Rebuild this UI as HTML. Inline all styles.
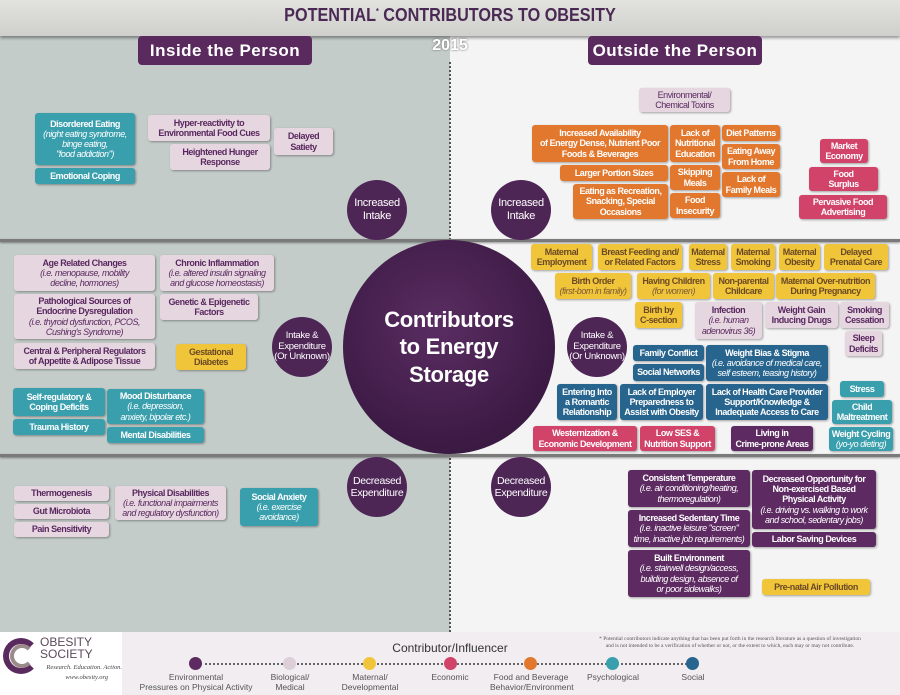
<!DOCTYPE html>
<html><head><meta charset="utf-8"><style>
*{margin:0;padding:0;box-sizing:border-box}
body{width:900px;height:695px;position:relative;overflow:hidden;font-family:"Liberation Sans",sans-serif;background:#f4f4f4}
.b{position:absolute;display:flex;flex-direction:column;align-items:center;justify-content:center;text-align:center;font-weight:bold;font-size:9px;letter-spacing:-0.45px;white-space:nowrap;line-height:1.12;border-radius:3px;box-shadow:1px 1px 2px rgba(0,0,0,.35)}
.b i{font-weight:normal;font-style:italic}
.pk{background:#e5d6df;color:#5a2860}
.tl{background:#3a9fad;color:#fff}
.or{background:#e2782e;color:#fff}
.ye{background:#f1c53a;color:#6b4a25}
.ye i{color:#7a5a35}
.pu{background:#5d2a62;color:#fff}
.bl{background:#28658e;color:#fff}
.mg{background:#d2436a;color:#fff}
.c{position:absolute;border-radius:50%;background:#4e2656;color:#fff;display:flex;align-items:center;justify-content:center;text-align:center;font-family:"Liberation Sans",sans-serif;font-size:11px;letter-spacing:-0.3px;line-height:1.15}
.lg{position:absolute;font-family:"Liberation Sans",sans-serif;font-size:8.5px;color:#555;text-align:center;line-height:1.15}
.dot{position:absolute;width:13px;height:13px;border-radius:50%;top:657px}
</style></head><body>
<div style="position:absolute;left:0;top:35px;width:450px;height:597px;background:#c4ccca"></div>
<div style="position:absolute;left:0;top:0;width:900px;height:36px;background:linear-gradient(#e2e2de,#cfcfcb);box-shadow:0 2px 3px rgba(0,0,0,.4)"></div>
<div style="position:absolute;left:0;top:5px;width:900px;text-align:center;font-family:'Liberation Sans',sans-serif;font-weight:bold;font-size:18px;color:#4a2a55;transform:scaleX(.9)">POTENTIAL<sup style="font-size:8px">*</sup> CONTRIBUTORS TO OBESITY</div>
<div style="position:absolute;left:425px;top:37px;width:50px;text-align:center;font-family:'Liberation Sans',sans-serif;font-weight:bold;font-size:16px;color:#fff;text-shadow:0 0 2px #666">2015</div>
<div style="position:absolute;left:138px;top:36px;width:174px;height:29px;background:#5a2a5e;border-radius:4px;color:#fff;font-family:'Liberation Sans',sans-serif;font-weight:bold;font-size:17px;display:flex;align-items:center;justify-content:center;letter-spacing:.5px">Inside the Person</div>
<div style="position:absolute;left:588px;top:36px;width:174px;height:29px;background:#5a2a5e;border-radius:4px;color:#fff;font-family:'Liberation Sans',sans-serif;font-weight:bold;font-size:17px;display:flex;align-items:center;justify-content:center;letter-spacing:.5px">Outside the Person</div>
<div style="position:absolute;left:449px;top:62px;height:570px;border-left:2px dotted #555"></div>
<div style="position:absolute;left:0;top:239px;width:900px;height:3px;background:#7a7a7a;box-shadow:0 1px 2px rgba(0,0,0,.4)"></div>
<div style="position:absolute;left:0;top:454px;width:900px;height:3px;background:#7a7a7a;box-shadow:0 1px 2px rgba(0,0,0,.4)"></div>

<div class="c" style="left:343px;top:240px;width:212px;height:214px;background:radial-gradient(circle at 45% 40%,#5a2d62,#3c1a44 70%,#2e1335);font-weight:bold;font-size:22px;line-height:1.25">Contributors<br>to Energy<br>Storage</div>
<div class="c" style="left:347px;top:180px;width:60px;height:60px">Increased<br>Intake</div>
<div class="c" style="left:491px;top:180px;width:60px;height:60px">Increased<br>Intake</div>
<div class="c" style="left:272px;top:317px;width:60px;height:60px;font-size:9.5px">Intake &amp;<br>Expenditure<br>(Or Unknown)</div>
<div class="c" style="left:567px;top:317px;width:60px;height:60px;font-size:9.5px">Intake &amp;<br>Expenditure<br>(Or Unknown)</div>
<div class="c" style="left:347px;top:457px;width:60px;height:60px;font-size:10.5px">Decreased<br>Expenditure</div>
<div class="c" style="left:491px;top:457px;width:60px;height:60px;font-size:10.5px">Decreased<br>Expenditure</div>

<div class="b tl" style="left:35px;top:113px;width:100px;height:52px">Disordered Eating<i>(night eating syndrome,<br>binge eating,<br>"food addiction")</i></div>
<div class="b tl" style="left:35px;top:168px;width:100px;height:16px">Emotional Coping</div>
<div class="b pk" style="left:148px;top:115px;width:122px;height:26px">Hyper-reactivity to<br>Environmental Food Cues</div>
<div class="b pk" style="left:170px;top:144px;width:100px;height:26px">Heightened Hunger<br>Response</div>
<div class="b pk" style="left:274px;top:128px;width:59px;height:27px">Delayed<br>Satiety</div>

<div class="b pk" style="left:639px;top:88px;width:91px;height:24px;font-weight:normal">Environmental/<br>Chemical Toxins</div>
<div class="b or" style="left:532px;top:125px;width:136px;height:37px">Increased Availability<br>of Energy Dense, Nutrient Poor<br>Foods &amp; Beverages</div>
<div class="b or" style="left:560px;top:165px;width:108px;height:16px">Larger Portion Sizes</div>
<div class="b or" style="left:573px;top:184px;width:95px;height:35px">Eating as Recreation,<br>Snacking, Special<br>Occasions</div>
<div class="b or" style="left:670px;top:125px;width:50px;height:37px">Lack of<br>Nutritional<br>Education</div>
<div class="b or" style="left:670px;top:165px;width:50px;height:25px">Skipping<br>Meals</div>
<div class="b or" style="left:670px;top:193px;width:50px;height:25px">Food<br>Insecurity</div>
<div class="b or" style="left:722px;top:125px;width:58px;height:16px">Diet Patterns</div>
<div class="b or" style="left:722px;top:144px;width:58px;height:25px">Eating Away<br>From Home</div>
<div class="b or" style="left:722px;top:172px;width:58px;height:25px">Lack of<br>Family Meals</div>
<div class="b mg" style="left:820px;top:139px;width:48px;height:24px">Market<br>Economy</div>
<div class="b mg" style="left:809px;top:167px;width:69px;height:24px">Food<br>Surplus</div>
<div class="b mg" style="left:799px;top:195px;width:88px;height:24px">Pervasive Food<br>Advertising</div>

<div class="b pk" style="left:14px;top:255px;width:141px;height:36px">Age Related Changes<i>(i.e. menopause, mobility<br>decline, hormones)</i></div>
<div class="b pk" style="left:160px;top:255px;width:114px;height:36px">Chronic Inflammation<i>(i.e. altered insulin signaling<br>and glucose homeostasis)</i></div>
<div class="b pk" style="left:14px;top:294px;width:141px;height:45px">Pathological Sources of<br>Endocrine Dysregulation<i>(i.e. thyroid dysfunction, PCOS,<br>Cushing's Syndrome)</i></div>
<div class="b pk" style="left:160px;top:294px;width:98px;height:26px">Genetic &amp; Epigenetic<br>Factors</div>
<div class="b pk" style="left:14px;top:343px;width:141px;height:26px">Central &amp; Peripheral Regulators<br>of Appetite &amp; Adipose Tissue</div>
<div class="b ye" style="left:176px;top:344px;width:70px;height:26px">Gestational<br>Diabetes</div>
<div class="b tl" style="left:13px;top:388px;width:92px;height:28px">Self-regulatory &amp;<br>Coping Deficits</div>
<div class="b tl" style="left:13px;top:419px;width:92px;height:16px">Trauma History</div>
<div class="b tl" style="left:107px;top:389px;width:97px;height:35px">Mood Disturbance<i>(i.e. depression,<br>anxiety, bipolar etc.)</i></div>
<div class="b tl" style="left:107px;top:427px;width:97px;height:16px">Mental Disabilities</div>

<div class="b ye" style="left:531px;top:244px;width:61px;height:26px">Maternal<br>Employment</div>
<div class="b ye" style="left:598px;top:244px;width:84px;height:26px">Breast Feeding and/<br>or Related Factors</div>
<div class="b ye" style="left:689px;top:244px;width:38px;height:26px">Maternal<br>Stress</div>
<div class="b ye" style="left:731px;top:244px;width:44px;height:26px">Maternal<br>Smoking</div>
<div class="b ye" style="left:779px;top:244px;width:41px;height:26px">Maternal<br>Obesity</div>
<div class="b ye" style="left:824px;top:244px;width:64px;height:26px">Delayed<br>Prenatal Care</div>
<div class="b ye" style="left:555px;top:273px;width:76px;height:26px">Birth Order<i>(first-born in family)</i></div>
<div class="b ye" style="left:637px;top:273px;width:73px;height:26px">Having Children<i>(for women)</i></div>
<div class="b ye" style="left:713px;top:273px;width:61px;height:26px">Non-parental<br>Childcare</div>
<div class="b ye" style="left:776px;top:273px;width:99px;height:26px">Maternal Over-nutrition<br>During Pregnancy</div>
<div class="b ye" style="left:635px;top:302px;width:47px;height:26px">Birth by<br>C-section</div>
<div class="b pk" style="left:695px;top:302px;width:67px;height:37px">Infection<i>(i.e. human<br>adenovirus 36)</i></div>
<div class="b pk" style="left:765px;top:302px;width:73px;height:26px">Weight Gain<br>Inducing Drugs</div>
<div class="b pk" style="left:840px;top:302px;width:49px;height:26px">Smoking<br>Cessation</div>
<div class="b pk" style="left:845px;top:331px;width:37px;height:25px">Sleep<br>Deficits</div>
<div class="b bl" style="left:633px;top:345px;width:71px;height:16px">Family Conflict</div>
<div class="b bl" style="left:633px;top:364px;width:71px;height:17px">Social Networks</div>
<div class="b bl" style="left:706px;top:345px;width:122px;height:36px">Weight Bias &amp; Stigma<i>(i.e. avoidance of medical care,<br>self esteem, teasing history)</i></div>
<div class="b bl" style="left:557px;top:384px;width:60px;height:36px">Entering Into<br>a Romantic<br>Relationship</div>
<div class="b bl" style="left:620px;top:384px;width:83px;height:36px">Lack of Employer<br>Preparedness to<br>Assist with Obesity</div>
<div class="b bl" style="left:706px;top:384px;width:122px;height:36px">Lack of Health Care Provider<br>Support/Knowledge &amp;<br>Inadequate Access to Care</div>
<div class="b tl" style="left:840px;top:381px;width:44px;height:16px">Stress</div>
<div class="b tl" style="left:832px;top:400px;width:60px;height:24px">Child<br>Maltreatment</div>
<div class="b tl" style="left:829px;top:427px;width:64px;height:24px">Weight Cycling<i>(yo-yo dieting)</i></div>
<div class="b mg" style="left:533px;top:426px;width:104px;height:25px">Westernization &amp;<br>Economic Development</div>
<div class="b mg" style="left:640px;top:426px;width:75px;height:25px">Low SES &amp;<br>Nutrition Support</div>
<div class="b pu" style="left:731px;top:426px;width:82px;height:25px">Living in<br>Crime-prone Areas</div>

<div class="b pk" style="left:14px;top:486px;width:95px;height:15px">Thermogenesis</div>
<div class="b pk" style="left:14px;top:504px;width:95px;height:15px">Gut Microbiota</div>
<div class="b pk" style="left:14px;top:522px;width:95px;height:15px">Pain Sensitivity</div>
<div class="b pk" style="left:115px;top:486px;width:111px;height:34px">Physical Disabilities<i>(i.e. functional impairments<br>and regulatory dysfunction)</i></div>
<div class="b tl" style="left:240px;top:488px;width:78px;height:38px">Social Anxiety<i>(i.e. exercise<br>avoidance)</i></div>

<div class="b pu" style="left:628px;top:470px;width:122px;height:37px">Consistent Temperature<i>(i.e. air conditioning/heating,<br>thermoregulation)</i></div>
<div class="b pu" style="left:628px;top:510px;width:122px;height:37px">Increased Sedentary Time<i>(i.e. inactive leisure "screen"<br>time, inactive job requirements)</i></div>
<div class="b pu" style="left:628px;top:550px;width:122px;height:47px">Built Environment<i>(i.e. stairwell design/access,<br>building design, absence of<br>or poor sidewalks)</i></div>
<div class="b pu" style="left:752px;top:470px;width:124px;height:59px">Decreased Opportunity for<br>Non-exercised Based<br>Physical Activity<i>(i.e. driving vs. walking to work<br>and school, sedentary jobs)</i></div>
<div class="b pu" style="left:752px;top:532px;width:124px;height:15px">Labor Saving Devices</div>
<div class="b ye" style="left:762px;top:579px;width:108px;height:16px">Pre-natal Air Pollution</div>

<div style="position:absolute;left:0;top:632px;width:900px;height:63px;background:#f1edf0"></div>
<div style="position:absolute;left:0;top:632px;width:122px;height:63px;background:#fff"></div>
<div style="position:absolute;left:3px;top:638px;width:36px;height:36px;border-radius:50%;border:6px solid #5a2a5e;border-right-color:transparent"></div>
<div style="position:absolute;left:10px;top:644px;width:24px;height:24px;border-radius:50%;border:4px solid #9b8a8a;border-right-color:transparent"></div>
<div style="position:absolute;left:40px;top:636px;font-family:'Liberation Sans',sans-serif;font-size:12px;line-height:1;color:#5a4a5a">OBESITY<br>SOCIETY</div>
<div style="position:absolute;left:12px;top:663px;width:110px;text-align:right;font-family:'Liberation Serif',serif;font-style:italic;font-size:6.5px;color:#444;line-height:1.6">Research. Education. Action.<br><span style="margin-right:14px">www.obesity.org</span></div>
<div style="position:absolute;left:350px;top:641px;width:200px;text-align:center;font-family:'Liberation Sans',sans-serif;font-size:12px;color:#333">Contributor/Influencer</div>
<div style="position:absolute;left:565px;top:636px;width:330px;text-align:center;font-family:'Liberation Serif',serif;font-size:5.5px;color:#555;line-height:1.3">* Potential contributors indicate anything that has been put forth in the research literature as a question of investigation<br>and is not intended to be a verification of whether or not, or the extent to which, each may or may not contribute.</div>
<div style="position:absolute;left:200px;top:663px;width:495px;border-top:2px dotted #666"></div>
<div class="dot" style="left:189px;background:#5d2a62"></div>
<div class="dot" style="left:283px;background:#dccfd7"></div>
<div class="dot" style="left:363px;background:#f1c53a"></div>
<div class="dot" style="left:444px;background:#d2436a"></div>
<div class="dot" style="left:524px;background:#e2782e"></div>
<div class="dot" style="left:606px;background:#3a9fad"></div>
<div class="dot" style="left:686px;background:#28658e"></div>
<div class="lg" style="left:136px;top:673px;width:120px">Environmental<br>Pressures on Physical Activity</div>
<div class="lg" style="left:260px;top:673px;width:60px">Biological/<br>Medical</div>
<div class="lg" style="left:340px;top:673px;width:60px">Maternal/<br>Developmental</div>
<div class="lg" style="left:420px;top:673px;width:60px">Economic</div>
<div class="lg" style="left:490px;top:673px;width:82px">Food and Beverage<br>Behavior/Environment</div>
<div class="lg" style="left:580px;top:673px;width:66px">Psychological</div>
<div class="lg" style="left:663px;top:673px;width:60px">Social</div>
</body></html>
